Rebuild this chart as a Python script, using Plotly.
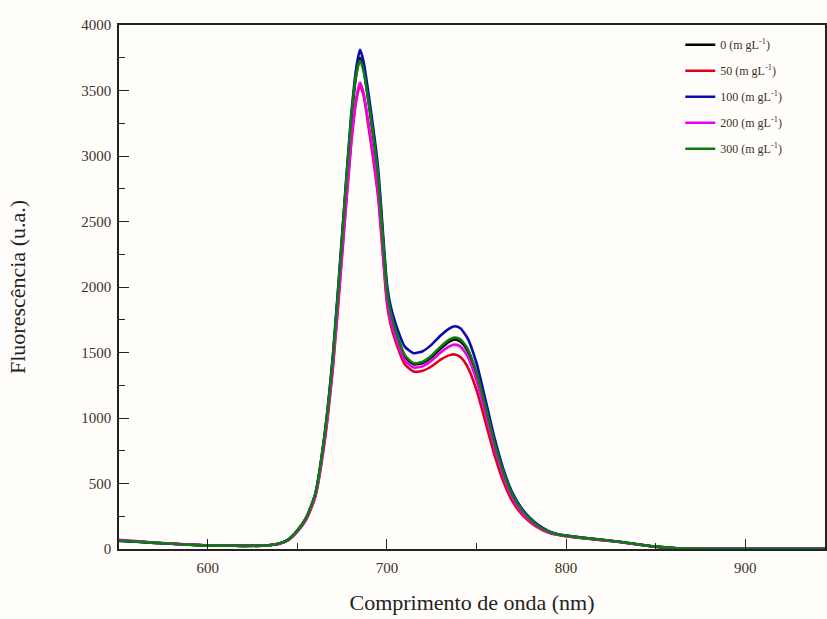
import plotly.graph_objects as go

# Emission wavelengths (nm)
wavelength = [550, 560, 570, 580, 590, 600, 610, 620, 630, 635, 640, 645, 650, 655, 660,
              665, 670, 675, 680, 683, 685, 687, 690, 695, 700, 702, 705, 710, 715, 720,
              725, 730, 735, 738, 741, 745, 750, 755, 760, 765, 770, 775, 780, 785, 790,
              795, 800, 810, 820, 830, 840, 850, 860, 870, 880, 900, 920, 945]

# Fluorescence intensity (a.u.) per concentration
f_0 = [65, 57, 48, 40, 33, 27, 25, 24, 25, 30, 42, 72, 140, 238, 415, 835, 1470, 2360, 3250,
       3630, 3750, 3660, 3390, 2860, 1980, 1800, 1650, 1470, 1410, 1420, 1465, 1530, 1585,
       1600, 1585, 1515, 1335, 1075, 805, 580, 410, 300, 225, 170, 133, 112, 100, 84, 69,
       54, 35, 18, 7, 3, 2, 1, 1, 1]
f_50 = [66, 57, 48, 40, 33, 27, 25, 24, 25, 29, 40, 68, 132, 225, 395, 795, 1400, 2240, 3080,
        3430, 3540, 3460, 3200, 2700, 1880, 1720, 1580, 1410, 1355, 1360, 1395, 1445, 1480,
        1485, 1465, 1390, 1215, 970, 720, 515, 365, 270, 205, 158, 126, 108, 97, 82, 68,
        53, 34, 17, 7, 3, 2, 1, 1, 1]
f_100 = [62, 55, 47, 40, 33, 27, 25, 24, 25, 30, 42, 72, 140, 240, 420, 850, 1500, 2400, 3300,
         3680, 3810, 3720, 3450, 2920, 2030, 1860, 1715, 1545, 1495, 1510, 1560, 1630, 1685,
         1700, 1685, 1610, 1420, 1140, 850, 610, 430, 315, 235, 178, 138, 115, 102, 85, 70,
         55, 36, 18, 7, 3, 2, 1, 1, 1]
f_200 = [70, 60, 50, 41, 34, 28, 25, 24, 25, 29, 40, 68, 133, 228, 400, 805, 1420, 2260, 3100,
         3450, 3560, 3480, 3230, 2730, 1910, 1750, 1610, 1440, 1385, 1395, 1440, 1500, 1548,
         1560, 1545, 1470, 1290, 1035, 775, 555, 390, 285, 215, 163, 128, 110, 98, 83, 68,
         53, 34, 17, 7, 3, 2, 1, 1, 1]
f_300 = [63, 56, 47, 40, 33, 27, 25, 24, 25, 30, 42, 72, 140, 240, 418, 845, 1490, 2385, 3280,
         3630, 3730, 3650, 3390, 2870, 1990, 1815, 1665, 1480, 1418, 1430, 1478, 1545, 1600,
         1615, 1600, 1530, 1350, 1090, 815, 590, 415, 305, 228, 172, 135, 113, 101, 85, 70,
         55, 36, 18, 7, 3, 2, 1, 1, 1]

labels = ["0", "50", "100", "200", "300"]
series = [f_0, f_50, f_100, f_200, f_300]
colors = ["#000000", "#e0001a", "#0a0ab4", "#ee00ee", "#0a7d0a"]

SERIF = "Liberation Serif, Times New Roman, serif"
TEXT = "#3d3226"

fig = go.Figure()
for i, (lab, ys, col) in enumerate(zip(labels, series, colors)):
    fig.add_trace(go.Scatter(
        x=wavelength, y=ys, mode="lines",
        name=f"{lab} (m gL<sup>-1</sup>)",
        legendgroup=f"g{i}",
        line=dict(color=col, width=2.6, shape="spline", smoothing=0.6),
    ))

axis_common = dict(
    showline=True, linecolor="#222222", linewidth=1.5, mirror=True,
    ticks="inside", ticklen=10, tickwidth=1.3, tickcolor="#222222",
    showgrid=False, zeroline=False,
    tickfont=dict(family=SERIF, size=15, color=TEXT),
)

fig.update_xaxes(
    range=[550.5, 944.5], tickvals=[600, 700, 800, 900],
    ticklabelstandoff=4,
    minor=dict(tickvals=[650, 750, 850], ticks="inside", ticklen=6,
               tickwidth=1.3, tickcolor="#222222"),
    title=dict(text="Comprimento de onda (nm)", standoff=20,
               font=dict(family=SERIF, size=22, color="#222222")),
    **axis_common,
)
fig.update_yaxes(
    range=[0, 4000], dtick=500,
    ticklabelstandoff=3,
    minor=dict(dtick=250, ticks="inside", ticklen=6,
               tickwidth=1.3, tickcolor="#222222"),
    title=dict(text="Fluorescência (u.a.)", standoff=50,
               font=dict(family=SERIF, size=22, color="#222222")),
    **axis_common,
)

fig.update_layout(
    width=827, height=619,
    margin=dict(l=119, r=0, t=25, b=70),
    paper_bgcolor="#fffefa", plot_bgcolor="#fffefa",
    showlegend=True,
    legend=dict(
        x=0.795, y=0.99, xanchor="left", yanchor="top",
        bgcolor="rgba(0,0,0,0)", borderwidth=0,
        font=dict(family=SERIF, size=12, color=TEXT),
        tracegroupgap=7, itemwidth=30,
    ),
)

fig.write_html("out.html")
